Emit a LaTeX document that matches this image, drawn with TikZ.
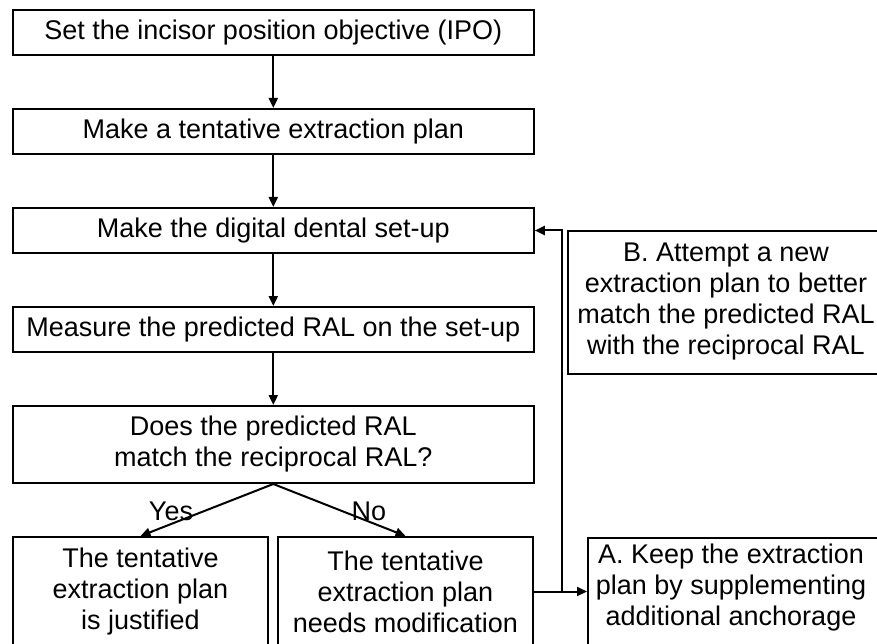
\documentclass[tikz,border=0pt]{standalone}
\usepackage{fontspec}
\setmainfont{Liberation Sans}
\usetikzlibrary{arrows.meta}
\begin{document}
\begin{tikzpicture}[x=1pt,y=1pt,
  box/.style={draw,line width=2pt,align=center,inner sep=0pt,font=\fontsize{27}{31}\selectfont},
  txt/.style={align=center,inner sep=0pt,font=\fontsize{27}{31}\selectfont},
  flow/.style={-{Triangle[length=10pt,width=9pt]},line width=2pt},
  lbl/.style={inner sep=0pt,font=\fontsize{27}{31}\selectfont}]
  % extraction plan check with the RAL, two ways out when it fails
  \useasboundingbox (0,0) rectangle (877,-644);
  \clip (0,0) rectangle (877,-644);
  \node[box,minimum width=521,minimum height=45] (ipo)     at (273.3,-32.5)  {Set the incisor position objective (IPO)};
  \node[box,minimum width=521,minimum height=45] (plan)    at (273.3,-131.5) {Make a tentative extraction plan};
  \node[box,minimum width=521,minimum height=45] (setup)   at (273.3,-230.5) {Make the digital dental set-up};
  \node[box,minimum width=521,minimum height=45] (measure) at (273.3,-329.5) {Measure the predicted RAL on the set-up};
  \node[box,minimum width=521,minimum height=77] (match)   at (273.3,-444.5) {Does the predicted RAL\\match the reciprocal RAL?};
  \node[box,minimum width=255,minimum height=109] (ok)     at (140.5,-591.5) {The tentative\\extraction plan\\is justified};
  \node[box,minimum width=255,minimum height=109] (modify) at (405.5,-591.5) {The tentative\\extraction plan\\needs modification};
  % A and B run past the right edge of the figure
  \node[box,minimum width=340,minimum height=109,anchor=north west] (keepbox)  at (587,-537) {};
  \node[box,minimum width=340,minimum height=143,anchor=north west] (retrybox) at (567,-230) {};
  \node[txt] (keep)  at (731,-588)   {A. Keep the extraction\\plan by supplementing\\additional anchorage};
  \node[txt] (retry) at (726,-301.5) {B. Attempt a new\\extraction plan to better\\match the predicted RAL\\with the reciprocal RAL};
  \coordinate (turn) at (562,-591.5);
  \draw[flow] (ipo) -- (plan);
  \draw[flow] (plan) -- (setup);
  \draw[flow] (setup) -- (measure);
  \draw[flow] (measure) -- (match);
  \draw[flow] (match.south) -- (ok.north);
  \draw[flow] (match.south) -- (modify.north);
  \draw[flow] (modify.east) -- (keepbox.west |- modify.east);
  \draw[flow] (turn) |- (setup.east);
  \node[lbl] (yes) at (171,-511) {Yes};
  \node[lbl] (no)  at (369,-511) {No};
\end{tikzpicture}
\end{document}
